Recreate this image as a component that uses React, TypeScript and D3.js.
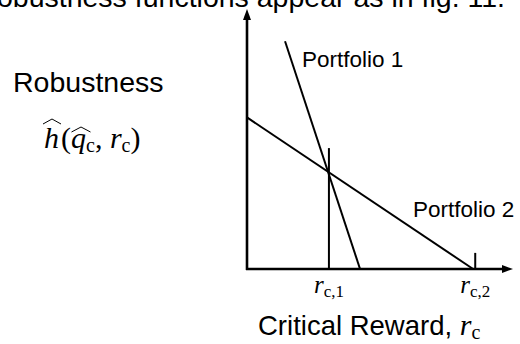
import React from 'react';
import * as d3 from 'd3';

// robustness curves (critical reward r vs robustness h)
const portfolioNames = ['Portfolio 1', 'Portfolio 2'];
const portfolio1R = [14.3, 42.5];
const portfolio1H = [87.6, 0];
const portfolio2R = [0, 85];
const portfolio2H = [58.3, 0];

// markers on the reward axis
const tickSubs = ['c,1', 'c,2'];
const tickR = [30.8, 85.8];
const tickTop = [46.5, 6.2];

const W = 520;
const H = 344;
const sans = '"Liberation Sans", Arial, sans-serif';
const serif = '"Liberation Serif", "Times New Roman", serif';

const x = d3.scaleLinear().domain([0, 100]).range([247, 513]);
const y = d3.scaleLinear().domain([0, 100]).range([269, 9]);

const line = d3
  .line<[number, number]>()
  .x(d => x(d[0]))
  .y(d => y(d[1]));

const p1 = portfolio1R.map((r, i) => [r, portfolio1H[i]] as [number, number]);
const p2 = portfolio2R.map((r, i) => [r, portfolio2H[i]] as [number, number]);

// little wide hat used in the math label
const Hat = ({ cx, cy, w }: { cx: number; cy: number; w: number }) => (
  <path
    d={`M${cx - w / 2},${cy + 3} L${cx},${cy - 2} L${cx + w / 2},${cy + 3}`}
    fill="none"
    stroke="#000"
    strokeWidth={1}
  />
);

export default function App() {
  const x0 = x(0);
  const y0 = y(0);
  const xEnd = x(100);
  const yEnd = y(100);

  return (
    <svg
      width={W}
      height={H}
      style={{ position: 'absolute', left: 0, top: 0, background: '#fff' }}
    >
      {/* cut-off sentence above the figure */}
      <text x={505} y={7} textAnchor="end" fontFamily={sans} fontSize={28.5}>
        The robustness functions appear as in fig. 11.
      </text>

      {/* axes with arrow heads */}
      <line x1={x0 - 1} y1={y0} x2={xEnd - 8} y2={y0} stroke="#000" strokeWidth={2.6} />
      <line x1={x0} y1={y0 + 1} x2={x0} y2={yEnd + 8} stroke="#000" strokeWidth={2.6} />
      <path d={`M${xEnd},${y0} L${xEnd - 11},${y0 - 4} L${xEnd - 11},${y0 + 4} Z`} fill="#000" />
      <path d={`M${x0},${yEnd} L${x0 - 4},${yEnd + 11} L${x0 + 4},${yEnd + 11} Z`} fill="#000" />

      {/* portfolio lines */}
      <path d={line(p1) || ''} fill="none" stroke="#000" strokeWidth={2} />
      <path d={line(p2) || ''} fill="none" stroke="#000" strokeWidth={2} />

      {/* r_c markers */}
      {tickR.map((r, i) => (
        <line key={i} x1={x(r)} x2={x(r)} y1={y0} y2={y(tickTop[i])} stroke="#000" strokeWidth={2} />
      ))}

      {tickR.map((r, i) => (
        <text key={'t' + i} x={x(r)} y={293} textAnchor="middle" fontFamily={serif} fontSize={25}>
          <tspan fontStyle="italic">r</tspan>
          <tspan fontSize={17} dy={4}>{tickSubs[i]}</tspan>
        </text>
      ))}

      {/* curve labels */}
      <text x={302} y={67} fontFamily={sans} fontSize={22.5}>{portfolioNames[0]}</text>
      <text x={413} y={217} fontFamily={sans} fontSize={22.5}>{portfolioNames[1]}</text>

      {/* y label */}
      <text x={13} y={92} fontFamily={sans} fontSize={28.5}>Robustness</text>
      <text x={44} y={148} fontFamily={serif} fontSize={30}>
        <tspan fontStyle="italic">h</tspan>
        <tspan dx={2}>(</tspan>
        <tspan fontStyle="italic">q</tspan>
        <tspan fontSize={20} dy={4}>c</tspan>
        <tspan dy={-4}>, </tspan>
        <tspan fontStyle="italic">r</tspan>
        <tspan fontSize={20} dy={4}>c</tspan>
        <tspan dy={-4}>)</tspan>
      </text>
      <Hat cx={52} cy={121} w={18} />
      <Hat cx={81} cy={129} w={19} />

      {/* x label */}
      <text x={258} y={335} fontFamily={sans} fontSize={27.5}>
        Critical Reward,{' '}
        <tspan fontFamily={serif} fontStyle="italic" fontSize={30}>r</tspan>
        <tspan fontFamily={serif} fontSize={20} dy={4}>c</tspan>
      </text>
    </svg>
  );
}
